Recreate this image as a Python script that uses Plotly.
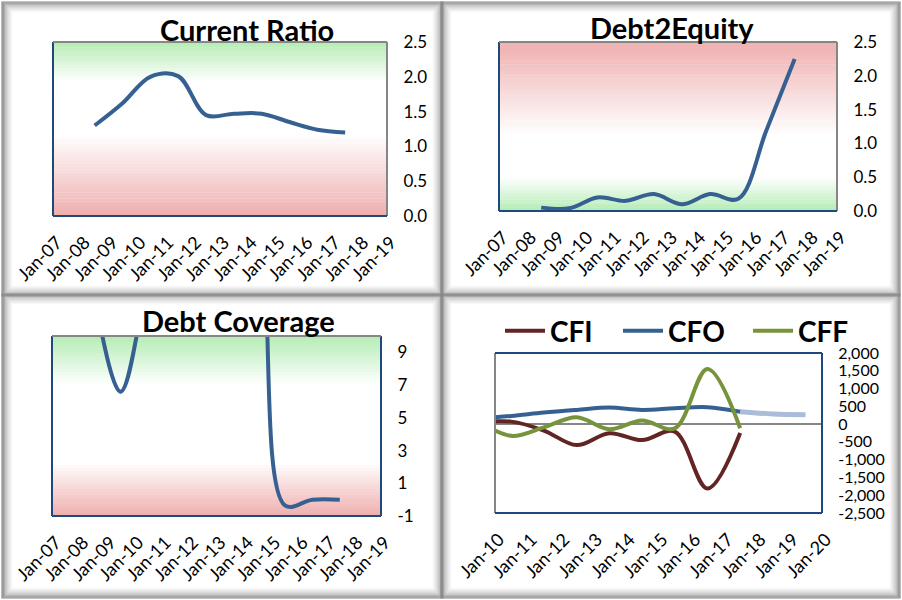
import plotly.graph_objects as go

W, H = 902, 600

# ---- data ----
ratio_dates = ["2008-07-01", "2009-07-01", "2010-07-01", "2011-07-01", "2012-07-01",
               "2013-07-01", "2014-07-01", "2015-07-01", "2016-07-01", "2017-07-01"]
current_ratio = [1.30, 1.62, 2.00, 2.01, 1.45, 1.47, 1.47, 1.35, 1.24, 1.20]
debt_to_equity = [0.05, 0.04, 0.20, 0.15, 0.25, 0.10, 0.25, 0.18, 1.20, 2.25]
debt_coverage = [13.0, 6.6, 13.5, 20.0, 25.0, 20.0, 17.0, -0.35, 0.0, 0.0]

cf_dates = ["2009-07-01", "2010-07-01", "2011-07-01", "2012-07-01", "2013-07-01",
            "2014-07-01", "2015-07-01", "2016-07-01", "2017-07-01"]
cfi = [40, 70, -180, -590, -255, -450, -210, -1810, -250]
cfo = [160, 231, 325, 400, 467, 400, 448, 476, 350]
cff = [80, -330, -90, 195, -145, 100, -120, 1550, -115]
cfo_trend_dates = ["2017-07-01", "2018-07-01", "2019-07-01"]
cfo_trend = [350, 285, 265]

coverage_ticks = [-1, 1, 3, 5, 7, 9]
coverage_labels = ["-1", "1", "3", "5", "7", "9"]
cash_ticks = [2000, 1500, 1000, 500, 0, -500, -1000, -1500, -2000, -2500]
cash_labels = ["2,000", "1,500", "1,000", "500", "0", "-500",
               "-1,000", "-1,500", "-2,000", "-2,500"]

BLUE = "#376092"
DARK_RED = "#632523"
GREEN = "#77933C"
AXIS_BLUE = "#1F497D"
GRAY = "#868686"
FONT = "Lato"

RED_RGB = (239, 174, 174)
GREEN_RGB = (180, 236, 180)
WHITE_RGB = (255, 255, 255)


def px_x(v):
    return v / W


def px_y(v):
    return 1 - v / H


def gradient_color(stops, t):
    for (t0, c0), (t1, c1) in zip(stops, stops[1:]):
        if t0 <= t <= t1:
            f = 0 if t1 == t0 else (t - t0) / (t1 - t0)
            return "rgb(%d,%d,%d)" % tuple(round(a + (b - a) * f) for a, b in zip(c0, c1))
    return "rgb(%d,%d,%d)" % stops[-1][1]


def gradient_bands(xref, yref, stops, n=60):
    out = []
    for i in range(n):
        out.append(dict(
            type="rect", xref=xref, yref=yref, x0=0, x1=1, y0=i / n, y1=(i + 1) / n + 0.002,
            fillcolor=gradient_color(stops, (i + 0.5) / n), line_width=0, layer="below",
        ))
    return out


def border(xref, yref, left, bottom, top, right):
    sides = [(0, 0, 0, 1, left), (1, 0, 1, 1, right), (0, 0, 1, 0, bottom), (0, 1, 1, 1, top)]
    return [dict(type="line", xref=xref, yref=yref, x0=a, y0=b, x1=c, y1=d,
                 line=dict(color=col, width=2), layer="above")
            for a, b, c, d, col in sides]


def panel_frame(x0, y0, x1, y1):
    out = []
    for i in range(12):
        if i < 3:
            level = 138
        else:
            level = round(138 + (255 - 138) * ((i - 2) / 9) ** 0.6)
        out.append(dict(
            type="rect", xref="paper", yref="paper",
            x0=px_x(x0 + i), x1=px_x(x1 - i), y0=px_y(y1 - i), y1=px_y(y0 + i),
            line=dict(color="rgb(%d,%d,%d)" % (level, level, level), width=1.2),
            layer="below",
        ))
    return out


fig = go.Figure()

line_kw = dict(mode="lines", line_shape="spline", showlegend=False, hoverinfo="skip")

fig.add_trace(go.Scatter(x=ratio_dates, y=current_ratio, xaxis="x", yaxis="y",
                         line=dict(color=BLUE, width=4), **line_kw))
fig.add_trace(go.Scatter(x=ratio_dates, y=debt_to_equity, xaxis="x2", yaxis="y2",
                         line=dict(color=BLUE, width=4), **line_kw))
fig.add_trace(go.Scatter(x=ratio_dates, y=debt_coverage, xaxis="x3", yaxis="y3",
                         line=dict(color=BLUE, width=4), **line_kw))

fig.add_trace(go.Scatter(x=cf_dates, y=cfi, name="CFI", xaxis="x4", yaxis="y4",
                         mode="lines", line=dict(color=DARK_RED, width=4, shape="spline"),
                         legend="legend"))
fig.add_trace(go.Scatter(x=cfo_trend_dates, y=cfo_trend, xaxis="x4", yaxis="y4",
                         mode="lines", line=dict(color="#aabcd8", width=5, shape="spline"),
                         showlegend=False))
fig.add_trace(go.Scatter(x=cf_dates, y=cfo, name="CFO", xaxis="x4", yaxis="y4",
                         mode="lines", line=dict(color=BLUE, width=4, shape="spline"),
                         legend="legend2"))
fig.add_trace(go.Scatter(x=cf_dates, y=cff, name="CFF", xaxis="x4", yaxis="y4",
                         mode="lines", line=dict(color=GREEN, width=4, shape="spline"),
                         legend="legend3"))


def date_axis(domain, anchor, start, end, size=18):
    return dict(
        domain=domain, anchor=anchor, type="date", range=[start, end], tick0=start,
        dtick="M12", tickformat="%b-%y", tickangle=-45, showgrid=False, zeroline=False,
        showline=False, ticks="outside", ticklen=8, tickcolor="rgba(0,0,0,0)",
        ticklabelshift=4, automargin=False,
        tickfont=dict(family=FONT, size=size, color="black"), fixedrange=True,
    )


def value_axis(domain, anchor, rng, size=17, **kw):
    ax = dict(
        domain=domain, anchor=anchor, side="right", range=rng, showgrid=False,
        zeroline=False, showline=False, ticks="outside", ticklen=12,
        tickcolor="rgba(0,0,0,0)", automargin=False,
        tickfont=dict(family=FONT, size=size, color="black"), fixedrange=True,
    )
    ax.update(kw)
    return ax


d1x, d1y = [px_x(53), px_x(387)], [px_y(216), px_y(42)]
d2x, d2y = [px_x(499), px_x(837)], [px_y(211), px_y(42)]
d3x, d3y = [px_x(52), px_x(381)], [px_y(516), px_y(336)]
d4x, d4y = [px_x(495), px_x(822)], [px_y(513), px_y(353)]

legend_common = dict(
    orientation="h", xanchor="left", yanchor="middle", y=px_y(331), itemwidth=40,
    bgcolor="rgba(0,0,0,0)", borderwidth=0,
    font=dict(family=FONT, size=28, color="black", weight="bold"),
)

shapes = []
shapes += gradient_bands("x domain", "y domain",
                         [(0, RED_RGB), (0.47, WHITE_RGB), (0.77, WHITE_RGB), (1, GREEN_RGB)])
shapes += gradient_bands("x2 domain", "y2 domain",
                         [(0, GREEN_RGB), (0.2, WHITE_RGB), (0.45, WHITE_RGB), (1, RED_RGB)])
shapes += gradient_bands("x3 domain", "y3 domain",
                         [(0, RED_RGB), (0.3, WHITE_RGB), (0.73, WHITE_RGB), (1, GREEN_RGB)])
shapes += border("x domain", "y domain", AXIS_BLUE, AXIS_BLUE, GRAY, GRAY)
shapes += border("x2 domain", "y2 domain", AXIS_BLUE, AXIS_BLUE, GRAY, GRAY)
shapes += border("x3 domain", "y3 domain", AXIS_BLUE, AXIS_BLUE, GRAY, AXIS_BLUE)
shapes += border("x4 domain", "y4 domain", GRAY, AXIS_BLUE, AXIS_BLUE, AXIS_BLUE)
shapes += panel_frame(2, 2, 443, 296)
shapes += panel_frame(441, 2, 900, 296)
shapes += panel_frame(2, 294, 443, 598)
shapes += panel_frame(441, 294, 900, 598)

title_font = dict(family=FONT, size=29, color="black", weight="bold")
annotations = [
    dict(text="Current Ratio", x=px_x(247), y=px_y(29), xref="paper", yref="paper",
         showarrow=False, font=title_font, xanchor="center", yanchor="middle"),
    dict(text="Debt2Equity", x=px_x(672), y=px_y(27), xref="paper", yref="paper",
         showarrow=False, font=title_font, xanchor="center", yanchor="middle"),
    dict(text="Debt Coverage", x=px_x(238), y=px_y(320), xref="paper", yref="paper",
         showarrow=False, font=title_font, xanchor="center", yanchor="middle"),
]

fig.update_layout(
    width=W, height=H, margin=dict(l=0, r=0, t=0, b=0, autoexpand=False),
    paper_bgcolor="white", plot_bgcolor="rgba(0,0,0,0)",
    xaxis=date_axis(d1x, "y", "2007-01-01", "2019-01-01"),
    yaxis=value_axis(d1y, "x", [0, 2.5], dtick=0.5, tick0=0, tickformat=".1f"),
    xaxis2=date_axis(d2x, "y2", "2007-01-01", "2019-01-01"),
    yaxis2=value_axis(d2y, "x2", [0, 2.5], dtick=0.5, tick0=0, tickformat=".1f"),
    xaxis3=date_axis(d3x, "y3", "2007-01-01", "2019-01-01"),
    yaxis3=value_axis(d3y, "x3", [-1, 10], tickvals=coverage_ticks, ticktext=coverage_labels),
    xaxis4=date_axis(d4x, "y4", "2010-01-01", "2020-01-01", size=18),
    yaxis4=value_axis(d4y, "x4", [-2500, 2000], size=16, tickvals=cash_ticks,
                      ticktext=cash_labels, zeroline=True, zerolinecolor=GRAY,
                      zerolinewidth=2),
    legend=dict(legend_common, x=px_x(500)),
    legend2=dict(legend_common, x=px_x(618)),
    legend3=dict(legend_common, x=px_x(748)),
    shapes=shapes,
    annotations=annotations,
)

# page body has a default 8px margin; drop it so the figure sits at the window origin
fig.write_html("out.html", config={"displayModeBar": False},
               post_script="document.body.style.margin='0';")
